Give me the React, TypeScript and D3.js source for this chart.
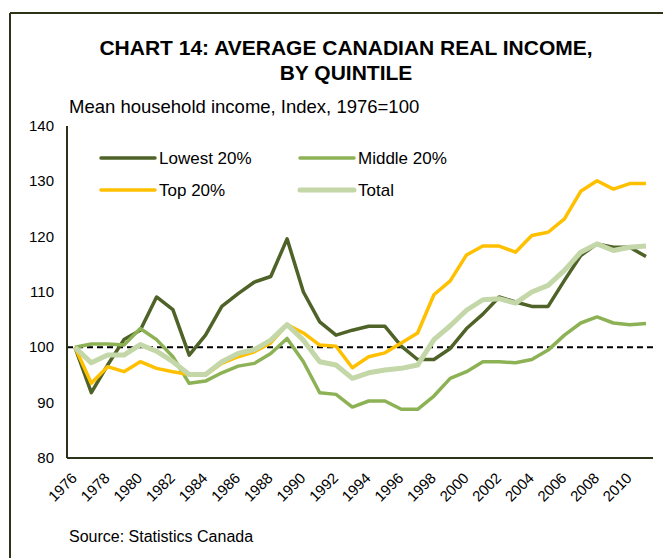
import React from 'react';
import * as d3 from 'd3';

// years 1976-2011
const years = d3.range(1976, 2012);
const tickYears = d3.range(1976, 2011, 2);
const yTicks = [80, 90, 100, 110, 120, 130, 140];

const lowest = [100, 91.8, 96.8, 101.4, 103.1, 109.1, 106.8, 98.6, 102.2, 107.4, 109.7, 111.8, 112.8, 119.6,
  110.0, 104.6, 102.2, 103.1, 103.8, 103.8, 100.2, 97.8, 97.8, 99.8, 103.4, 106.0, 109.1, 108.2, 107.4, 107.4,
  112.1, 116.6, 118.7, 118.1, 118.1, 116.4];
const middle = [100, 100.6, 100.6, 100.4, 103.4, 101.4, 98.3, 93.5, 93.9, 95.4, 96.6, 97.1, 98.9, 101.6,
  97.4, 91.8, 91.5, 89.2, 90.3, 90.3, 88.8, 88.8, 91.2, 94.4, 95.6, 97.4, 97.4, 97.2, 97.8, 99.5,
  102.2, 104.4, 105.5, 104.4, 104.1, 104.3];
const top20 = [100, 93.5, 96.5, 95.6, 97.4, 96.2, 95.6, 95.1, 95.0, 97.1, 98.3, 99.2, 100.8, 104.1,
  102.6, 100.4, 100.2, 96.3, 98.3, 99.0, 100.8, 102.6, 109.5, 112.0, 116.7, 118.3, 118.3, 117.2, 120.2, 120.8,
  123.2, 128.2, 130.1, 128.6, 129.6, 129.6];
const total = [100, 97.2, 98.6, 98.6, 100.5, 99.3, 97.4, 95.1, 95.1, 97.4, 98.9, 99.6, 101.3, 104.1,
  101.3, 97.4, 96.8, 94.4, 95.4, 95.9, 96.2, 96.8, 101.4, 103.9, 106.7, 108.6, 108.8, 108.0, 110.0, 111.2,
  113.9, 117.2, 118.7, 117.5, 118.1, 118.3];

const series = [
  { name: 'Lowest 20%', values: lowest, color: '#4F6228', width: 3.5 },
  { name: 'Middle 20%', values: middle, color: '#8DB255', width: 3.5 },
  { name: 'Top 20%', values: top20, color: '#FFC000', width: 3.5 },
  { name: 'Total', values: total, color: '#C4D7A8', width: 5 },
];

const font = '"Liberation Sans", Arial, sans-serif';
const axisColor = '#2b3318';

export default function App() {
  const x = d3.scalePoint<number>().domain(years).range([75, 646]);
  const y = d3.scaleLinear().domain([80, 140]).range([458, 126]);
  const line = d3.line<number>().x((d, i) => x(years[i])!).y(d => y(d));

  const legendPos = [
    { x: 101, y: 158 },
    { x: 300, y: 158 },
    { x: 101, y: 190 },
    { x: 300, y: 190 },
  ];

  return (
    <svg width={663} height={558} style={{ position: 'absolute', left: 0, top: 0 }} fontFamily={font}>
      <rect width={663} height={558} fill="#fff" />
      {/* frame */}
      <line x1={10} y1={13} x2={663} y2={13} stroke={axisColor} strokeWidth={2} />
      <line x1={10} y1={13} x2={10} y2={558} stroke={axisColor} strokeWidth={2} />

      <text x={346} y={55} textAnchor="middle" fontSize={21} fontWeight="bold">CHART 14: AVERAGE CANADIAN REAL INCOME,</text>
      <text x={346} y={80} textAnchor="middle" fontSize={21} fontWeight="bold">BY QUINTILE</text>
      <text x={69} y={113} fontSize={18.5}>Mean household income, Index, 1976=100</text>

      {/* y tick labels */}
      {yTicks.map(t => (
        <text key={t} x={54} y={y(t) + 5} textAnchor="end" fontSize={15}>{t}</text>
      ))}
      {/* x tick labels */}
      {tickYears.map(yr => (
        <text key={yr} transform={`translate(${x(yr)! + 3},${479}) rotate(-45)`} textAnchor="end" fontSize={15}>{yr}</text>
      ))}

      {/* reference line at 100 */}
      <line x1={67} x2={653} y1={y(100)} y2={y(100)} stroke="#000" strokeWidth={2} strokeDasharray="6,4" />

      {series.map(s => (
        <path key={s.name} d={line(s.values)!} fill="none" stroke={s.color} strokeWidth={s.width} strokeLinejoin="round" />
      ))}

      {/* axes */}
      <line x1={67} x2={67} y1={126} y2={458} stroke={axisColor} strokeWidth={2} />
      <line x1={67} x2={653} y1={458} y2={458} stroke={axisColor} strokeWidth={2} />

      {/* legend */}
      {series.map((s, i) => (
        <g key={s.name}>
          <line x1={legendPos[i].x} x2={legendPos[i].x + 54} y1={legendPos[i].y} y2={legendPos[i].y}
            stroke={s.color} strokeWidth={s.width} strokeLinecap="round" />
          <text x={legendPos[i].x + 58} y={legendPos[i].y + 6} fontSize={17}>{s.name}</text>
        </g>
      ))}

      <text x={69} y={542} fontSize={16}>Source: Statistics Canada</text>
    </svg>
  );
}
